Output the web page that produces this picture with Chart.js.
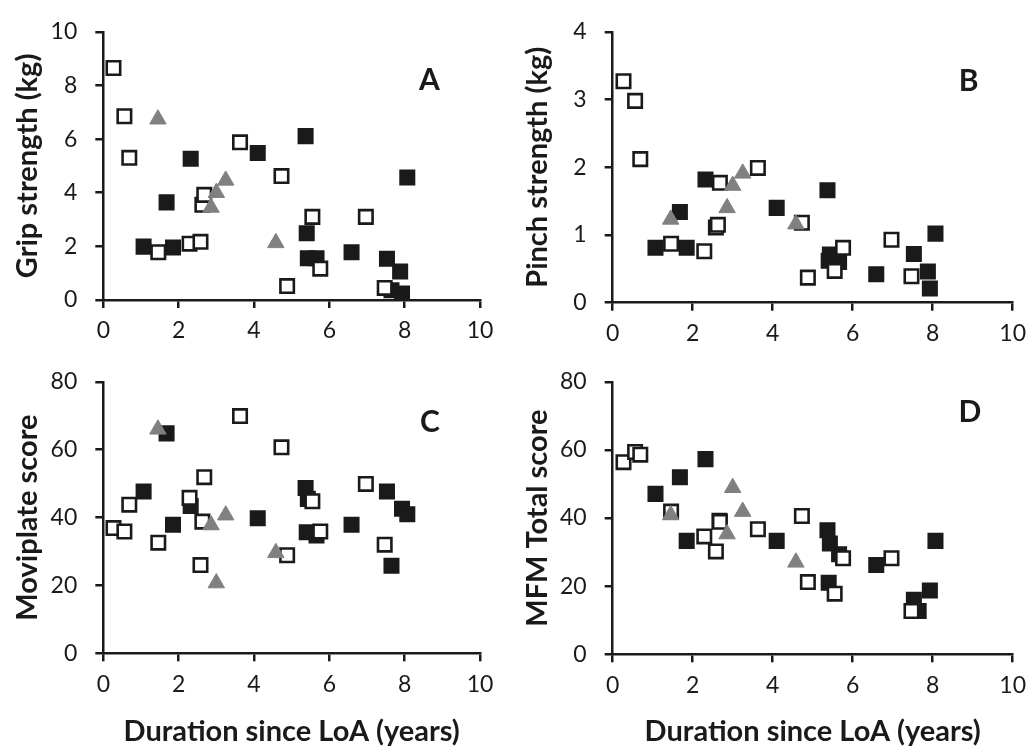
<!DOCTYPE html>
<html>
<head>
<meta charset="utf-8">
<title>Strength and function vs duration since LoA</title>
<script src="https://cdn.jsdelivr.net/npm/chart.js@4.4.1/dist/chart.umd.min.js"></script>
<style>
    html, body { margin: 0; padding: 0; background: #ffffff; }
    #wrap { position: relative; width: 1035px; height: 749px; overflow: hidden; }
    .panel { position: absolute; }
</style>
</head>
<body>
<div id="wrap">
    <canvas id="gripChart" class="panel" width="517" height="345" style="left:0;top:0"></canvas>
    <canvas id="pinchChart" class="panel" width="518" height="345" style="left:517px;top:0"></canvas>
    <canvas id="moviChart" class="panel" width="517" height="399" style="left:0;top:350px"></canvas>
    <canvas id="mfmChart" class="panel" width="518" height="399" style="left:517px;top:350px"></canvas>
</div>
<script>
// Duration since LoA (years), one list per patient group
const openDur   = [0.27, 0.56, 0.69, 1.46, 2.29, 2.58, 2.63, 2.68, 3.63, 4.73, 4.88, 5.55, 5.76, 6.97, 7.47];
const filledDur = [1.07, 1.68, 1.85, 2.32, 2.67, 4.10, 5.37, 5.40, 5.43, 5.66, 6.59, 7.53, 7.65, 7.88, 7.93, 8.07];
const triDur    = [1.45, 2.86, 3.00, 3.25, 4.58];

// A - grip strength (kg)
const gripOpen   = [8.65, 6.85, 5.30, 1.78, 2.10, 2.17, 3.55, 3.92, 5.88, 4.62, 0.52, 3.10, 1.17, 3.10, 0.45];
const gripFilled = [1.99, 3.64, 1.96, 5.27, null, 5.48, 6.11, 2.49, 1.56, 1.56, 1.78, 1.54, 0.36, 1.06, 0.24, 4.57];
const gripTri    = [6.74, 3.45, 4.00, 4.46, 2.13];

// B - pinch strength (kg)
const pinchOpen   = [3.27, 2.98, 2.12, 0.87, 0.76, 1.11, 1.15, 1.77, 1.99, 1.18, 0.37, 0.47, 0.81, 0.93, 0.39];
const pinchFilled = [0.81, 1.34, 0.81, 1.82, null, 1.40, 1.66, 0.62, 0.71, 0.60, 0.42, 0.72, null, 0.46, 0.21, 1.02];
const pinchTri    = [1.23, 1.40, 1.73, 1.91, 1.16];

// C - Moviplate score
const moviOpen   = [36.9, 35.9, 43.8, 32.6, 45.8, 26.0, 38.8, 51.9, 69.9, 60.7, 28.9, 44.8, 35.9, 49.9, 32.0];
const moviFilled = [47.7, 64.8, 37.9, 43.4, null, 39.8, 48.7, 35.7, 45.5, 34.7, 37.9, 47.7, 25.8, null, 42.6, 41.0];
const moviTri    = [66.0, 37.8, 20.7, 40.7, 29.6];

// D - MFM total score
const mfmOpen   = [56.4, 59.4, 58.6, 41.9, 34.6, 30.2, null, 38.9, 36.7, 40.6, 21.2, 17.8, 28.2, 28.2, 12.7];
const mfmFilled = [47.1, 52.0, 33.3, 57.3, 39.2, 33.3, 36.4, 21.0, 32.5, 29.4, 26.2, 16.0, 12.7, null, 18.7, 33.3];
const mfmTri    = [40.9, 35.3, 48.9, 41.9, 27.0];

const xTicks = [0, 2, 4, 6, 8, 10];

const INK = '#1a1a1a';
const GREY = '#808080';
const FONT = 'Lato, "Open Sans", sans-serif';

function toPoints(xs, ys) {
    return xs.map((x, i) => ({ x: x, y: ys[i] })).filter(p => p.y !== null);
}

// draws the panel letter (A, B, C, D) at a spot given in data units
const panelLetter = {
    id: 'panelLetter',
    afterDatasetsDraw(chart, args, opts) {
        if (!opts || !opts.text) return;
        const ctx = chart.ctx;
        const px = chart.scales.x.getPixelForValue(opts.at[0]);
        const py = chart.scales.y.getPixelForValue(opts.at[1]);
        ctx.save();
        ctx.font = 'bold 30px ' + FONT;
        ctx.fillStyle = INK;
        ctx.textAlign = 'center';
        ctx.textBaseline = 'middle';
        ctx.fillText(opts.text, px, py);
        ctx.restore();
    }
};

function axisStyle() {
    return {
        grid: {
            display: true,
            drawOnChartArea: false,
            drawTicks: true,
            tickLength: 8,
            color: INK,
            lineWidth: 2.5
        },
        border: { display: true, color: INK, width: 2.5 }
    };
}

function makePanel(p) {
    const ctx = document.getElementById(p.id).getContext('2d');
    const xAxis = Object.assign(axisStyle(), {
        type: 'linear',
        min: 0,
        max: 10,
        afterBuildTicks: (scale) => { scale.ticks = xTicks.map(v => ({ value: v })); },
        ticks: {
            color: INK,
            padding: 9,
            font: { family: FONT, size: 23 }
        },
        title: {
            display: !!p.xTitle,
            text: p.xTitle || '',
            color: INK,
            font: { family: FONT, size: 29, weight: 'bold' },
            padding: { top: 0, bottom: 0 }
        },
        afterFit: (scale) => { scale.height = p.xHeight; }
    });
    const yAxis = Object.assign(axisStyle(), {
        type: 'linear',
        min: 0,
        max: p.yMax,
        afterBuildTicks: (scale) => { scale.ticks = p.yTicks.map(v => ({ value: v })); },
        ticks: {
            color: INK,
            padding: 18,
            font: { family: FONT, size: 23 }
        },
        title: {
            display: true,
            text: p.yTitle,
            color: INK,
            font: { family: FONT, size: 29, weight: 'bold' },
            padding: { top: p.yTitlePad, bottom: 0 }
        },
        afterFit: (scale) => { scale.width = p.yWidth; }
    });

    return new Chart(ctx, {
        type: 'scatter',
        data: {
            datasets: [
                {
                    label: 'Triangle group',
                    data: toPoints(triDur, p.tri),
                    pointStyle: 'triangle',
                    pointRadius: 9.5,
                    pointBackgroundColor: GREY,
                    pointBorderColor: GREY,
                    pointBorderWidth: 1,
                    order: 0
                },
                {
                    label: 'Open squares',
                    data: toPoints(openDur, p.open),
                    pointStyle: 'rect',
                    pointRadius: 9.5,
                    pointBackgroundColor: '#ffffff',
                    pointBorderColor: INK,
                    pointBorderWidth: 2.6,
                    order: 1
                },
                {
                    label: 'Filled squares',
                    data: toPoints(filledDur, p.filled),
                    pointStyle: 'rect',
                    pointRadius: 9.5,
                    pointBackgroundColor: INK,
                    pointBorderColor: INK,
                    pointBorderWidth: 2.6,
                    order: 2
                }
            ]
        },
        options: {
            responsive: false,
            animation: false,
            devicePixelRatio: 1,
            layout: { padding: { left: 0, top: p.padTop, right: p.padRight, bottom: 0 } },
            plugins: {
                legend: { display: false },
                tooltip: { enabled: false },
                panelLetter: { text: p.letter, at: p.letterAt }
            },
            scales: { x: xAxis, y: yAxis }
        },
        plugins: [panelLetter]
    });
}

makePanel({
    id: 'gripChart', letter: 'A', letterAt: [8.66, 8.2],
    open: gripOpen, filled: gripFilled, tri: gripTri,
    yMax: 10, yTicks: [0, 2, 4, 6, 8, 10], yTitle: 'Grip strength (kg)', xTitle: null,
    yWidth: 103.3, xHeight: 45, padTop: 23, padRight: 37, yTitlePad: 10.5
});
makePanel({
    id: 'pinchChart', letter: 'B', letterAt: [8.9, 3.27],
    open: pinchOpen, filled: pinchFilled, tri: pinchTri,
    yMax: 4, yTicks: [0, 1, 2, 3, 4], yTitle: 'Pinch strength (kg)', xTitle: null,
    yWidth: 95.7, xHeight: 42.3, padTop: 23.3, padRight: 18, yTitlePad: 3.5
});
makePanel({
    id: 'moviChart', letter: 'C', letterAt: [8.67, 68],
    open: moviOpen, filled: moviFilled, tri: moviTri,
    yMax: 80, yTicks: [0, 20, 40, 60, 80], yTitle: 'Moviplate score', xTitle: 'Duration since LoA (years)',
    yWidth: 103.3, xHeight: 95.7, padTop: 26.7, padRight: 37, yTitlePad: 10.5
});
makePanel({
    id: 'mfmChart', letter: 'D', letterAt: [8.93, 70.9],
    open: mfmOpen, filled: mfmFilled, tri: mfmTri,
    yMax: 80, yTicks: [0, 20, 40, 60, 80], yTitle: 'MFM Total score', xTitle: 'Duration since LoA (years)',
    yWidth: 95.7, xHeight: 94.7, padTop: 30, padRight: 18, yTitlePad: 3.5
});
</script>
</body>
</html>
